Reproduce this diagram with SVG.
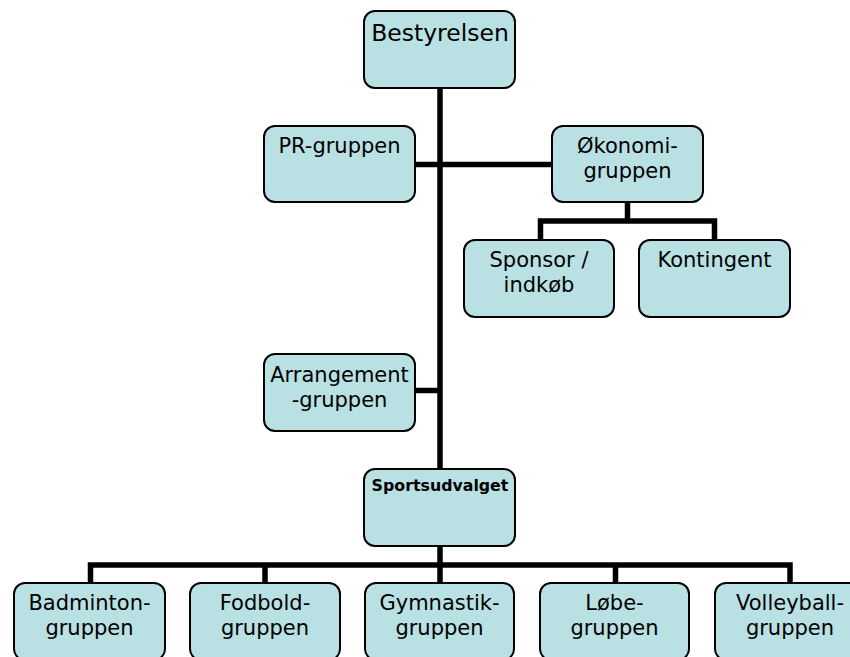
<svg xmlns="http://www.w3.org/2000/svg" width="850" height="657" viewBox="0 0 850 657">
<style>
.box{fill:#b9e0e3;stroke:#000;stroke-width:2}
.t{font-family:"DejaVu Sans",Verdana,sans-serif;font-size:21px;fill:#000;text-anchor:middle}
.big{font-size:23.5px}
.bold{font-size:15.8px;font-weight:bold}
.con{fill:none;stroke:#000;stroke-width:5.5;stroke-linejoin:miter;stroke-linecap:butt}
</style>
<rect width="850" height="657" fill="#fff"/>
<g id="connectors">
<line class="con" x1="440" y1="88" x2="440" y2="469"/>
<line class="con" x1="415" y1="164.5" x2="552" y2="164.5"/>
<line class="con" x1="415" y1="390.5" x2="440" y2="390.5"/>
<path class="con" d="M627.5 202 V221 M540.5 240 V221 H714.5 V240"/>
<line class="con" x1="440" y1="546" x2="440" y2="565"/>
<path class="con" d="M90.5 583 V565 H790 V583 M265 565 V583 M440 565 V583 M615.5 565 V583"/>
</g>
<g id="bestyrelsen"><rect class="box" x="364" y="11" width="151" height="77" rx="11"/><text class="t big" x="440" y="41">Bestyrelsen</text></g>
<g id="pr"><rect class="box" x="264" y="126" width="151" height="76" rx="11"/><text class="t" x="339.5" y="152.5">PR-gruppen</text></g>
<g id="okonomi"><rect class="box" x="552" y="126" width="151" height="76" rx="11"/><text class="t" x="627.5" y="152.5">Økonomi-</text><text class="t" x="627.5" y="177.5">gruppen</text></g>
<g id="sponsor"><rect class="box" x="464" y="240" width="150" height="77" rx="11"/><text class="t" x="539" y="267">Sponsor /</text><text class="t" x="539" y="292">indkøb</text></g>
<g id="kontingent"><rect class="box" x="639" y="240" width="151" height="77" rx="11"/><text class="t" x="714.5" y="267">Kontingent</text></g>
<g id="arrangement"><rect class="box" x="264" y="354" width="151" height="77" rx="11"/><text class="t" x="339.5" y="381.5">Arrangement</text><text class="t" x="339.5" y="406.5">-gruppen</text></g>
<g id="sportsudvalget"><rect class="box" x="364" y="469" width="151" height="77" rx="11"/><text class="t bold" x="440" y="490.5">Sportsudvalget</text></g>
<g id="badminton"><rect class="box" x="14" y="583" width="151" height="77" rx="11"/><text class="t" x="89.5" y="610">Badminton-</text><text class="t" x="89.5" y="635">gruppen</text></g>
<g id="fodbold"><rect class="box" x="190" y="583" width="150" height="77" rx="11"/><text class="t" x="265" y="610">Fodbold-</text><text class="t" x="265" y="635">gruppen</text></g>
<g id="gymnastik"><rect class="box" x="365" y="583" width="149" height="77" rx="11"/><text class="t" x="439.5" y="610">Gymnastik-</text><text class="t" x="439.5" y="635">gruppen</text></g>
<g id="lobe"><rect class="box" x="540" y="583" width="149" height="77" rx="11"/><text class="t" x="614.5" y="610">Løbe-</text><text class="t" x="614.5" y="635">gruppen</text></g>
<g id="volleyball"><rect class="box" x="715" y="583" width="151" height="77" rx="11"/><text class="t" x="790" y="610">Volleyball-</text><text class="t" x="790" y="635">gruppen</text></g>
</svg>
